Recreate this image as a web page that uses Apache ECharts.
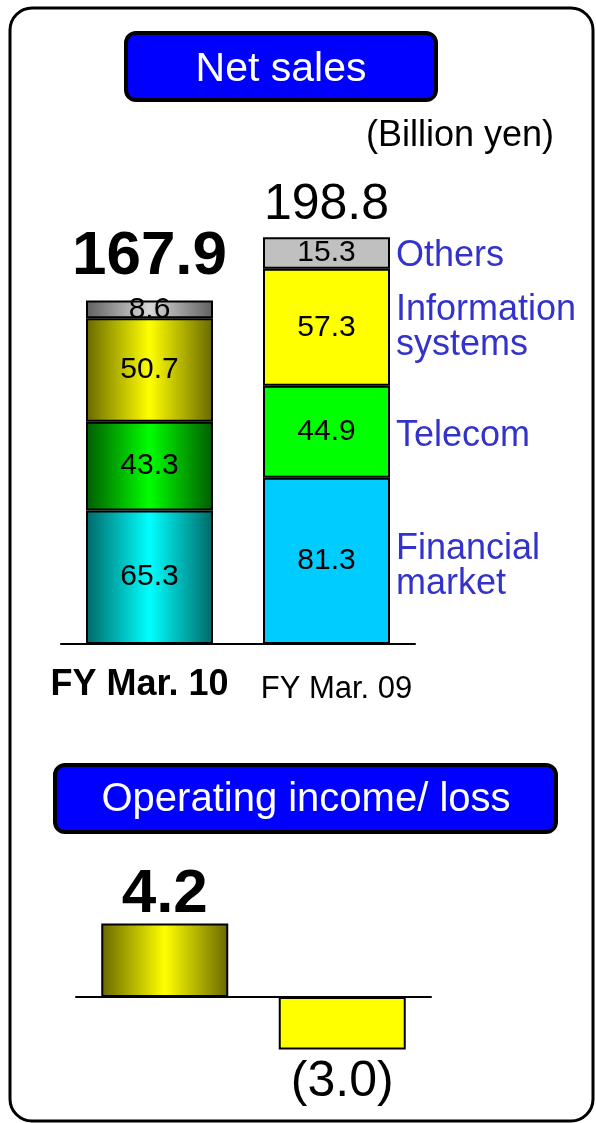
<!DOCTYPE html>
<html>
<head>
<meta charset="utf-8">
<script src="https://cdn.jsdelivr.net/npm/echarts@6/dist/echarts.min.js"></script>
<style>
  html, body { margin: 0; padding: 0; background: #fff; }
  #chart { width: 596px; height: 1123px; }
</style>
</head>
<body>
<div id="chart"></div>
<script>
// ---- Data ----
const categories = ['FY Mar. 10', 'FY Mar. 09'];
const segmentNames = ['Financial\nmarket', 'Telecom', 'Information\nsystems', 'Others'];
const financial = [65.3, 81.3];
const telecom = [43.3, 44.9];
const infoSystems = [50.7, 57.3];
const others = [8.6, 15.3];
const totals = [167.9, 198.8];
const opIncome = [4.2, -3.0];
const opLabels = ['4.2', '(3.0)'];

// ---- Styles ----
const FONT = '"Liberation Sans", Arial, Helvetica, sans-serif';
function grad(dark, bright) {
  return new echarts.graphic.LinearGradient(0, 0, 1, 0, [
    { offset: 0, color: dark },
    { offset: 0.5, color: bright },
    { offset: 1, color: dark }
  ]);
}
const segStyles = [
  { g: grad('#006868', '#00ffff'), flat: '#00ccff' },
  { g: grad('#005c00', '#00ff00'), flat: '#00ff00' },
  { g: grad('#686800', '#ffff00'), flat: '#ffff00' },
  { g: grad('#606060', '#d8d8d8'), flat: '#c0c0c0' }
];
const nameOffsets = [[0, 6], [0, 4], [0, 0], [0, 3]];
const segData = [financial, telecom, infoSystems, others];

const chart = echarts.init(document.getElementById('chart'), null, { renderer: 'canvas' });

const series = [];
segData.forEach((arr, si) => {
  series.push({
    type: 'bar',
    name: segmentNames[si],
    xAxisIndex: 0, yAxisIndex: 0,
    stack: 'sales',
    barWidth: 127,
    data: arr.map((v, ci) => ({
      value: v,
      itemStyle: { color: ci === 0 ? segStyles[si].g : segStyles[si].flat }
    })),
    itemStyle: { borderColor: '#000', borderWidth: 2 },
    label: {
      show: true, position: 'inside', color: '#000',
      fontSize: 30, fontFamily: FONT,
      formatter: p => p.value.toFixed(1)
    }
  });
});

const hiddenDot = { color: 'rgba(0,0,0,0)', opacity: 1 };

// totals above stacks
series.push({
  type: 'scatter',
  xAxisIndex: 0, yAxisIndex: 0,
  symbolSize: 1,
  silent: true,
  itemStyle: hiddenDot,
  data: totals.map((t, i) => ({
    value: [i, t],
    label: i === 0
      ? { show: true, position: 'top', distance: 12, fontSize: 62, lineHeight: 62, fontWeight: 'bold', color: '#000', fontFamily: FONT, formatter: t.toFixed(1) }
      : { show: true, position: 'top', distance: 7, fontSize: 50, lineHeight: 50, color: '#000', fontFamily: FONT, formatter: t.toFixed(1) }
  }))
});

// segment names to the right of the second stack
let cum = 0;
const nameData = segData.map((arr, si) => {
  const mid = cum + arr[1] / 2;
  cum += arr[1];
  return { value: [1, mid], name: segmentNames[si], label: { offset: nameOffsets[si] } };
});
series.push({
  type: 'scatter',
  xAxisIndex: 0, yAxisIndex: 0,
  symbolSize: 1,
  silent: true,
  itemStyle: hiddenDot,
  data: nameData,
  label: {
    show: true, position: 'right', distance: 69,
    fontSize: 36, lineHeight: 35, color: '#3333cc', fontFamily: FONT, align: 'left',
    formatter: p => p.name
  }
});

// operating income
series.push({
  type: 'bar',
  xAxisIndex: 1, yAxisIndex: 1,
  barWidth: 127,
  data: opIncome.map((v, i) => ({
    value: v,
    itemStyle: { color: i === 0 ? grad('#686800', '#ffff00') : '#ffff00' }
  })),
  itemStyle: { borderColor: '#000', borderWidth: 2 }
});
series.push({
  type: 'scatter',
  xAxisIndex: 1, yAxisIndex: 1,
  symbolSize: 1,
  silent: true,
  itemStyle: hiddenDot,
  data: opIncome.map((v, i) => ({
    value: [i, v],
    label: v >= 0
      ? { show: true, position: 'top', distance: 0, offset: [0, 3], fontSize: 62, lineHeight: 62, fontWeight: 'bold', color: '#000', fontFamily: FONT, formatter: opLabels[i] }
      : { show: true, position: 'bottom', distance: 7, fontSize: 50, lineHeight: 50, color: '#000', fontFamily: FONT, formatter: opLabels[i] }
  }))
});

const option = {
  animation: false,
  backgroundColor: '#fff',
  textStyle: { fontFamily: FONT },
  graphic: [
    { type: 'rect', shape: { x: 10, y: 8, width: 583, height: 1113, r: 22 }, style: { fill: 'none', stroke: '#000', lineWidth: 3 }, z: 0 },
    { type: 'rect', shape: { x: 126, y: 33, width: 310, height: 67, r: 10 }, style: { fill: '#0000ff', stroke: '#000', lineWidth: 4 }, z: 1 },
    { type: 'text', x: 281, y: 70, style: { text: 'Net sales', fill: '#fff', fontSize: 41, fontFamily: FONT, textAlign: 'center', textVerticalAlign: 'middle' }, z: 2 },
    { type: 'text', x: 460, y: 136, style: { text: '(Billion yen)', fill: '#000', fontSize: 36, fontFamily: FONT, textAlign: 'center', textVerticalAlign: 'middle' }, z: 2 },
    { type: 'rect', shape: { x: 55, y: 765, width: 501, height: 67, r: 10 }, style: { fill: '#0000ff', stroke: '#000', lineWidth: 4 }, z: 1 },
    { type: 'text', x: 306, y: 800, style: { text: 'Operating income/ loss', fill: '#fff', fontSize: 40, fontFamily: FONT, textAlign: 'center', textVerticalAlign: 'middle' }, z: 2 }
  ],
  grid: [
    { left: 61, top: 194, width: 354, height: 450 },
    { left: 76, top: 892, width: 355, height: 175 }
  ],
  xAxis: [
    {
      gridIndex: 0, type: 'category', data: categories,
      axisLine: { lineStyle: { color: '#000', width: 2 } },
      axisTick: { show: false },
      axisLabel: {
        interval: 0,
        hideOverlap: false,
        margin: 23,
        formatter: (v, i) => i === 0 ? '{a|' + v + '}' : '{b|' + v + '}',
        rich: {
          a: { fontSize: 36, lineHeight: 36, fontWeight: 'bold', color: '#000', fontFamily: FONT, padding: [0, 20, 0, 0] },
          b: { fontSize: 31, lineHeight: 44, color: '#000', fontFamily: FONT, padding: [0, 0, 0, 20] }
        }
      }
    },
    {
      gridIndex: 1, type: 'category', data: categories,
      axisLine: { onZero: true, lineStyle: { color: '#000', width: 2 } },
      axisTick: { show: false },
      axisLabel: { show: false }
    }
  ],
  yAxis: [
    { gridIndex: 0, type: 'value', min: 0, max: 220, show: false, splitLine: { show: false } },
    { gridIndex: 1, type: 'value', min: -4, max: 6, show: false, splitLine: { show: false } }
  ],
  series: series
};
chart.setOption(option);
</script>
</body>
</html>
